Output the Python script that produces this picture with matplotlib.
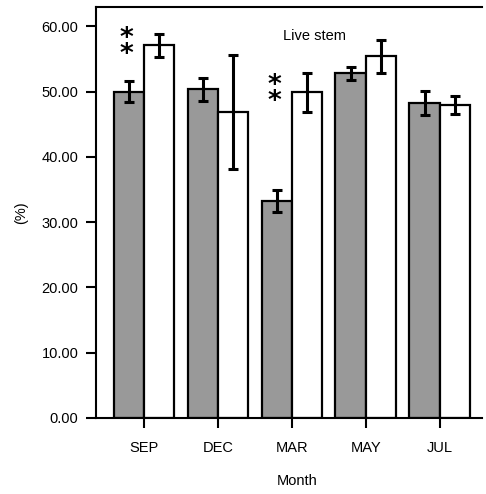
import matplotlib
matplotlib.use('Agg')
import matplotlib.pyplot as plt
import numpy as np

months = ['SEP', 'DEC', 'MAR', 'MAY', 'JUL']
grey_vals = [50.0, 50.4, 33.3, 52.8, 48.3]
grey_err = [1.6, 1.75, 1.7, 0.95, 1.85]
white_vals = [57.1, 46.9, 49.9, 55.4, 48.0]
white_err = [1.75, 8.8, 2.95, 2.6, 1.35]
signif = [True, False, True, False, False]

plt.rcParams['font.family'] = ['Liberation Sans', 'DejaVu Sans']
plt.rcParams['font.size'] = 10.5

fig = plt.figure(figsize=(4.86, 4.94), dpi=100)
ax = fig.add_axes([0.1975, 0.154, 0.794, 0.832])

x = np.arange(len(months))
w = 0.41
ax.bar(x - w / 2, grey_vals, w, color='#999999', edgecolor='black', linewidth=1.6, zorder=2)
ax.bar(x + w / 2, white_vals, w, color='white', edgecolor='black', linewidth=1.6, zorder=2)
ax.errorbar(x - w / 2, grey_vals, yerr=grey_err, fmt='none', ecolor='black',
            elinewidth=2.2, capsize=3.5, capthick=2.2, zorder=3)
ax.errorbar(x + w / 2, white_vals, yerr=white_err, fmt='none', ecolor='black',
            elinewidth=2.2, capsize=3.5, capthick=2.2, zorder=3)

# significance marks
for i, s in enumerate(signif):
    if s:
        ax.text(x[i] - w / 2 - 0.03, white_vals[i] - 0.2, '*\n*', ha='center', va='center',
                fontsize=19, linespacing=0.5, family='DejaVu Sans', fontweight='bold')

ax.text(2.31, 58.6, 'Live stem', ha='center', va='center')

ax.set_xlim(-0.65, 4.57)
ax.set_ylim(0, 63)
ax.set_xticks(x)
ax.set_xticklabels(months)
ax.set_yticks(np.arange(0, 61, 10))
ax.set_yticklabels(['%.2f' % v for v in np.arange(0, 61, 10)])
ax.tick_params(direction='out', length=7.5, width=1.5)
ax.tick_params(axis='x', pad=9)
ax.tick_params(axis='y', pad=5)

for sp in ['left', 'top', 'bottom']:
    ax.spines[sp].set_linewidth(1.5)
ax.spines['right'].set_visible(False)

ax.set_xlabel('Month')
ax.xaxis.set_label_coords(0.52, -0.137)
ax.set_ylabel('(%)', labelpad=10)

fig.savefig('out.png', dpi=100)
